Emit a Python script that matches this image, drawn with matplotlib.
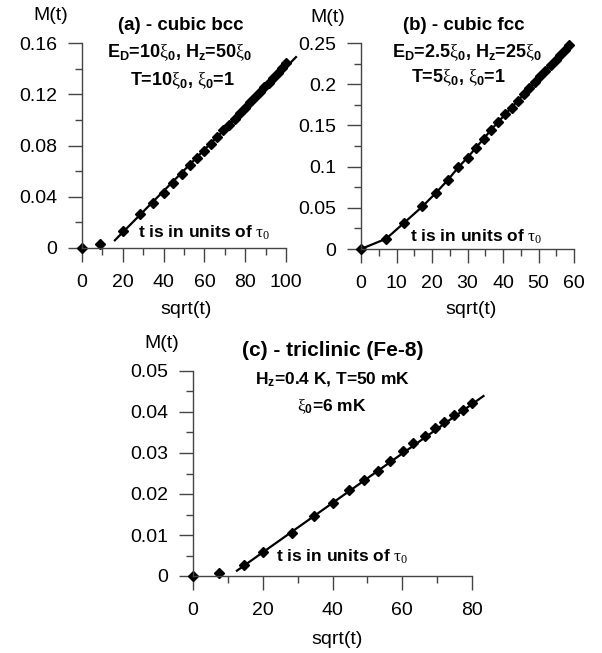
import numpy as np
import matplotlib
matplotlib.use("Agg")
from matplotlib import pyplot as plt
from matplotlib.ticker import MultipleLocator, FixedLocator, FixedFormatter

plt.rcParams['font.family'] = ['Liberation Sans', 'DejaVu Sans']
plt.rcParams['mathtext.fontset'] = 'custom'
plt.rcParams['mathtext.rm'] = 'Liberation Sans'
plt.rcParams['mathtext.bf'] = 'Liberation Sans:bold'
plt.rcParams['mathtext.it'] = 'Liberation Sans:italic'
plt.rcParams['mathtext.sf'] = 'Liberation Serif'

# Dados
# (a) cubic bcc
a_x = [0, 9.0, 20.0, 28.3, 34.6, 40.0, 44.7, 49.0, 52.9, 56.6, 60.0, 63.2, 66.3,
       69.3, 72.1, 74.8, 77.5, 80.0, 82.5, 84.9, 87.2, 89.4, 91.7, 93.8, 95.9, 98.0, 100.0]
a_y = [0, 0.0034, 0.0133, 0.0268, 0.0354, 0.0432, 0.0505, 0.0578, 0.0645, 0.0705, 0.076,
       0.0814, 0.0866, 0.0918, 0.096, 0.1007, 0.1054, 0.1095, 0.1137, 0.1179, 0.1215,
       0.1254, 0.129, 0.133, 0.1366, 0.1405, 0.1444]
a_fit_x = [16.1, 104.9]
a_fit_y = [0.006, 0.149]

# (b) cubic fcc
b_x = [0, 7.1, 12.2, 17.3, 21.2, 24.5, 27.4, 30.0, 32.4, 34.6, 36.7, 38.7, 40.6, 42.4,
       44.2, 45.8, 47.4, 49.0, 50.5, 51.9, 53.4, 54.8, 56.1, 57.4, 58.7]
b_y = [0, 0.0125, 0.032, 0.0516, 0.0685, 0.084, 0.099, 0.111, 0.123, 0.134, 0.145,
       0.1544, 0.1633, 0.1717, 0.1801, 0.1876, 0.1951, 0.2026, 0.2096, 0.2162, 0.2232,
       0.2297, 0.2358, 0.2419, 0.248]

# (c) triclinic Fe-8
c_x = [0, 7.4, 14.6, 20.1, 28.4, 34.7, 40.0, 44.8, 49.1, 53.0, 56.6, 60.1, 63.2, 66.4,
       69.3, 72.0, 74.7, 77.4, 80.0]
c_y = [0, 0.00065, 0.0027, 0.0058, 0.0106, 0.0146, 0.0179, 0.0209, 0.0234, 0.0256,
       0.028, 0.0304, 0.0325, 0.0341, 0.036, 0.0376, 0.0392, 0.0404, 0.0422]
c_fit_x = [12.6, 83.3]
c_fit_y = [0.0013, 0.0439]

a_yticks = [0, 0.04, 0.08, 0.12, 0.16]
a_ylabels = ['0', '0.04', '0.08', '0.12', '0.16']
b_yticks = [0, 0.05, 0.1, 0.15, 0.2, 0.25]
b_ylabels = ['0', '0.05', '0.1', '0.15', '0.2', '0.25']
c_yticks = [0, 0.01, 0.02, 0.03, 0.04, 0.05]
c_ylabels = ['0', '0.01', '0.02', '0.03', '0.04', '0.05']

W, H = 602, 653
fig = plt.figure(figsize=(W / 100, H / 100), dpi=100)

def px(x, y):
    return x / W, 1 - y / H

def novo_eixo(x0, x1, y0, y1):
    # limites do eixo em pixels
    ax = fig.add_axes([x0 / W, 1 - y0 / H, (x1 - x0) / W, (y0 - y1) / H])
    for s in ['top', 'right']:
        ax.spines[s].set_visible(False)
    for s in ['left', 'bottom']:
        ax.spines[s].set_color('#444444')
        ax.spines[s].set_linewidth(1.0)
    ax.tick_params(which='major', direction='out', length=10, width=1.0,
                   color='#444444', labelsize=14)
    ax.tick_params(which='minor', direction='out', length=5, width=1.0, color='#444444')
    ax.tick_params(axis='x', which='major', pad=9)
    ax.tick_params(axis='y', which='major', pad=8)
    ax.patch.set_alpha(0)
    return ax

def eixo_y(ax, ticks, labels, minor):
    ax.yaxis.set_major_locator(FixedLocator(ticks))
    ax.yaxis.set_major_formatter(FixedFormatter(labels))
    ax.yaxis.set_minor_locator(MultipleLocator(minor))
    ax.set_ylim(ticks[0], ticks[-1])

# (a)
ax1 = novo_eixo(82, 286, 248, 43)
ax1.plot(a_fit_x, a_fit_y, color='k', lw=1.6, clip_on=False)
ax1.plot(a_x, a_y, 'D', color='k', ms=5, clip_on=False)
ax1.set_xlim(0, 100)
ax1.xaxis.set_major_locator(MultipleLocator(20))
ax1.xaxis.set_minor_locator(MultipleLocator(10))
eixo_y(ax1, a_yticks, a_ylabels, 0.02)

# (b)
ax2 = novo_eixo(361, 574, 249, 43)
ax2.plot(b_x, b_y, color='k', lw=1.6, clip_on=False)
ax2.plot(b_x, b_y, 'D', color='k', ms=5, clip_on=False)
ax2.set_xlim(0, 60)
ax2.xaxis.set_major_locator(MultipleLocator(10))
ax2.xaxis.set_minor_locator(MultipleLocator(5))
eixo_y(ax2, b_yticks, b_ylabels, 0.025)

# (c)
ax3 = novo_eixo(193, 472, 576, 371)
ax3.plot(c_fit_x, c_fit_y, color='k', lw=1.6, clip_on=False)
ax3.plot(c_x, c_y, 'D', color='k', ms=5, clip_on=False)
ax3.set_xlim(0, 80)
ax3.xaxis.set_major_locator(MultipleLocator(20))
ax3.xaxis.set_minor_locator(MultipleLocator(10))
eixo_y(ax3, c_yticks, c_ylabels, 0.005)

xi0 = r'$\mathsf{\xi}_\mathbf{0}$'
tau = r't is in units of $\mathsf{\tau_0}$'

textos = [
    # (x, y, texto, tamanho, negrito)
    (51, 15, 'M(t)', 14, False),
    (181, 25, '(a) - cubic bcc', 13.5, True),
    (180, 53, 'E$_\\mathbf{D}$=10' + xi0 + ', H$_\\mathbf{z}$=50' + xi0, 13, True),
    (182, 81, 'T=10' + xi0 + ', ' + xi0 + '=1', 13, True),
    (204, 233, tau, 12.5, True),
    (186, 310, 'sqrt(t)', 14, False),
    (328, 18, 'M(t)', 14, False),
    (464, 25, '(b) - cubic fcc', 13.5, True),
    (467, 53, 'E$_\\mathbf{D}$=2.5' + xi0 + ', H$_\\mathbf{z}$=25' + xi0, 13, True),
    (458, 78, 'T=5' + xi0 + ', ' + xi0 + '=1', 13, True),
    (476, 237, tau, 12.5, True),
    (471, 310, 'sqrt(t)', 14, False),
    (162, 343, 'M(t)', 14, False),
    (333, 350, '(c) - triclinic (Fe-8)', 15, True),
    (333, 380, 'H$_\\mathbf{z}$=0.4 K, T=50 mK', 12.5, True),
    (332, 407, xi0 + '=6 mK', 12.5, True),
    (342, 557, tau, 12.5, True),
    (337, 639, 'sqrt(t)', 14, False),
]
for x, y, s, tam, neg in textos:
    fig.text(*px(x, y), s, fontsize=tam, fontweight='bold' if neg else 'normal',
             ha='center', va='center')

fig.savefig('out.png', dpi=100)
